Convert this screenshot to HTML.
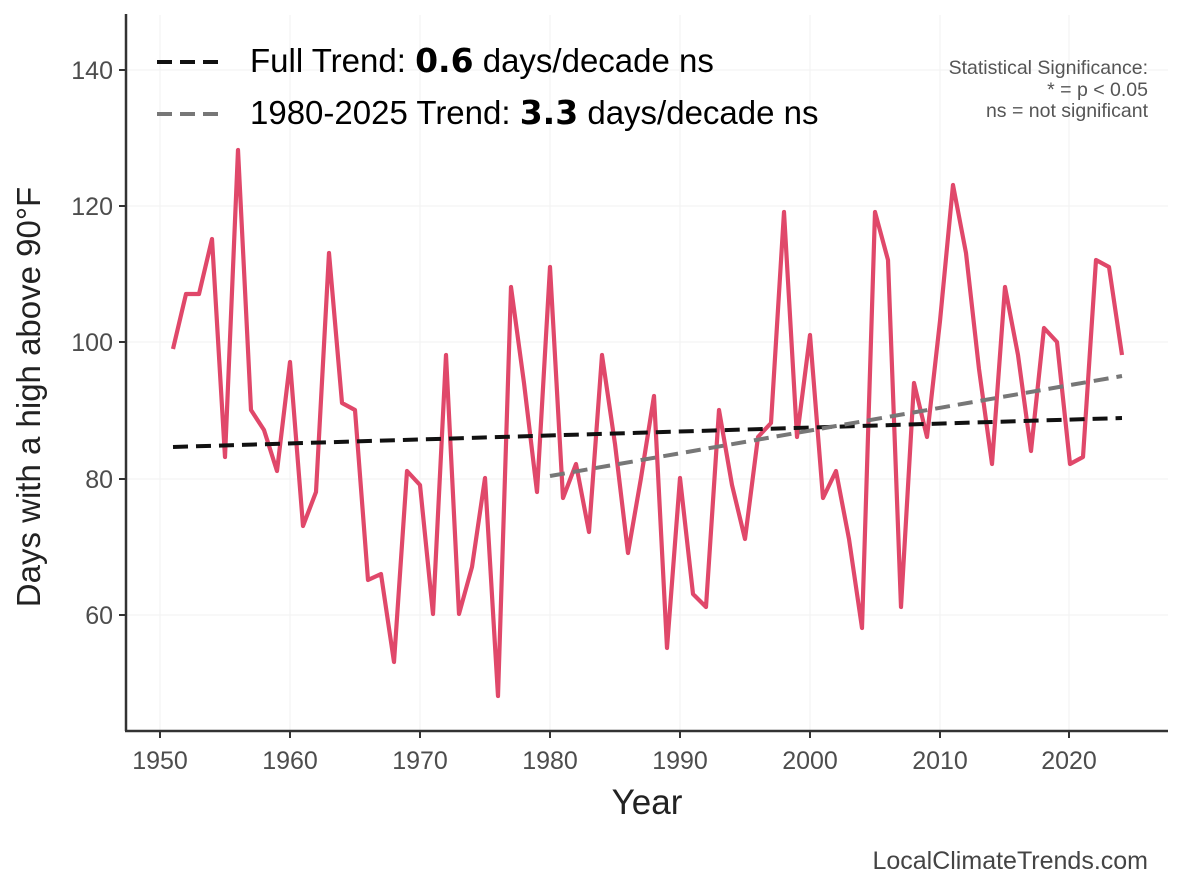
<!DOCTYPE html>
<html><head><meta charset="utf-8"><style>
body{margin:0;background:#fff;}
svg text{font-family:"Liberation Sans",Arial,sans-serif;}
</style></head><body>
<svg width="1184" height="889" viewBox="0 0 1184 889" xmlns="http://www.w3.org/2000/svg">
<rect width="1184" height="889" fill="#fff"/>
<g stroke="#f2f2f2" stroke-width="1">
<line x1="127" y1="70" x2="1168" y2="70"/><line x1="127" y1="206" x2="1168" y2="206"/>
<line x1="127" y1="342" x2="1168" y2="342"/><line x1="127" y1="479" x2="1168" y2="479"/>
<line x1="127" y1="615" x2="1168" y2="615"/>
<line x1="160" y1="15" x2="160" y2="730"/><line x1="290" y1="15" x2="290" y2="730"/>
<line x1="420" y1="15" x2="420" y2="730"/><line x1="550" y1="15" x2="550" y2="730"/>
<line x1="680" y1="15" x2="680" y2="730"/><line x1="810" y1="15" x2="810" y2="730"/>
<line x1="940" y1="15" x2="940" y2="730"/><line x1="1069" y1="15" x2="1069" y2="730"/>
</g>
<polyline fill="none" stroke="#e0486a" stroke-width="4.2" stroke-linejoin="round" points="173,349 186,294 199,294 212,239 225,457 238,150 251,410 264,430 277,471 290,362 303,526 316,492 329,253 342,403 355,410 368,580 381,574 394,662 407,471 420,485 433,614 446,355 459,614 472,567 485,478 498,696 511,287 524,383 537,492 550,267 563,498 576,464 589,532 602,355 615,444 628,553 641,478 654,396 667,648 680,478 693,594 706,607 719,410 732,485 745,539 758,437 771,423 784,212 797,437 810,335 823,498 836,471 849,539 862,628 875,212 888,260 901,607 914,383 927,437 940,321 953,185 966,253 979,369 992,464 1005,287 1018,355 1031,451 1044,328 1057,342 1070,464 1083,457 1096,260 1109,267 1122,355"/>
<line x1="173" y1="447" x2="1122" y2="418" stroke="#111" stroke-width="4" stroke-dasharray="15,8"/>
<line x1="550" y1="476" x2="1122" y2="376" stroke="#777" stroke-width="4" stroke-dasharray="15,8"/>
<g stroke="#333" stroke-width="2.5" fill="none">
<line x1="126" y1="14" x2="126" y2="731"/><line x1="125" y1="731" x2="1168" y2="731"/>
</g>
<g stroke="#333" stroke-width="2">
<line x1="119" y1="70" x2="126" y2="70"/><line x1="119" y1="206" x2="126" y2="206"/><line x1="119" y1="342" x2="126" y2="342"/><line x1="119" y1="479" x2="126" y2="479"/><line x1="119" y1="615" x2="126" y2="615"/>
<line x1="160" y1="731" x2="160" y2="738"/><line x1="290" y1="731" x2="290" y2="738"/><line x1="420" y1="731" x2="420" y2="738"/><line x1="550" y1="731" x2="550" y2="738"/><line x1="680" y1="731" x2="680" y2="738"/><line x1="810" y1="731" x2="810" y2="738"/><line x1="940" y1="731" x2="940" y2="738"/><line x1="1069" y1="731" x2="1069" y2="738"/>
</g>
<g font-size="25" fill="#4d4d4d" text-anchor="end">
<text x="113" y="79">140</text><text x="113" y="215">120</text><text x="113" y="351">100</text><text x="113" y="488">80</text><text x="113" y="624">60</text>
</g>
<g font-size="25" fill="#4d4d4d" text-anchor="middle">
<text x="160" y="769">1950</text><text x="290" y="769">1960</text><text x="420" y="769">1970</text><text x="550" y="769">1980</text><text x="680" y="769">1990</text><text x="810" y="769">2000</text><text x="940" y="769">2010</text><text x="1069" y="769">2020</text>
</g>
<text x="647" y="814" font-size="35" fill="#222" text-anchor="middle">Year</text>
<text transform="translate(40,397) rotate(-90)" font-size="33" fill="#222" text-anchor="middle">Days with a high above 90°F</text>
<line x1="157" y1="62" x2="225" y2="62" stroke="#111" stroke-width="4" stroke-dasharray="15,8"/>
<line x1="157" y1="114" x2="225" y2="114" stroke="#777" stroke-width="4" stroke-dasharray="15,8"/>
<text x="250" y="72" font-size="33" fill="#000">Full Trend: <tspan font-weight="bold" font-family="DejaVu Sans">0.6</tspan> days/decade ns</text>
<text x="250" y="124" font-size="33" fill="#000">1980-2025 Trend: <tspan font-weight="bold" font-family="DejaVu Sans">3.3</tspan> days/decade ns</text>
<g font-size="19.5" fill="#555" text-anchor="end">
<text x="1148" y="74">Statistical Significance:</text><text x="1148" y="96">* = p &lt; 0.05</text><text x="1148" y="117">ns = not significant</text>
</g>
<text x="1148" y="869" font-size="25" fill="#444" text-anchor="end">LocalClimateTrends.com</text>
</svg>
</body></html>
